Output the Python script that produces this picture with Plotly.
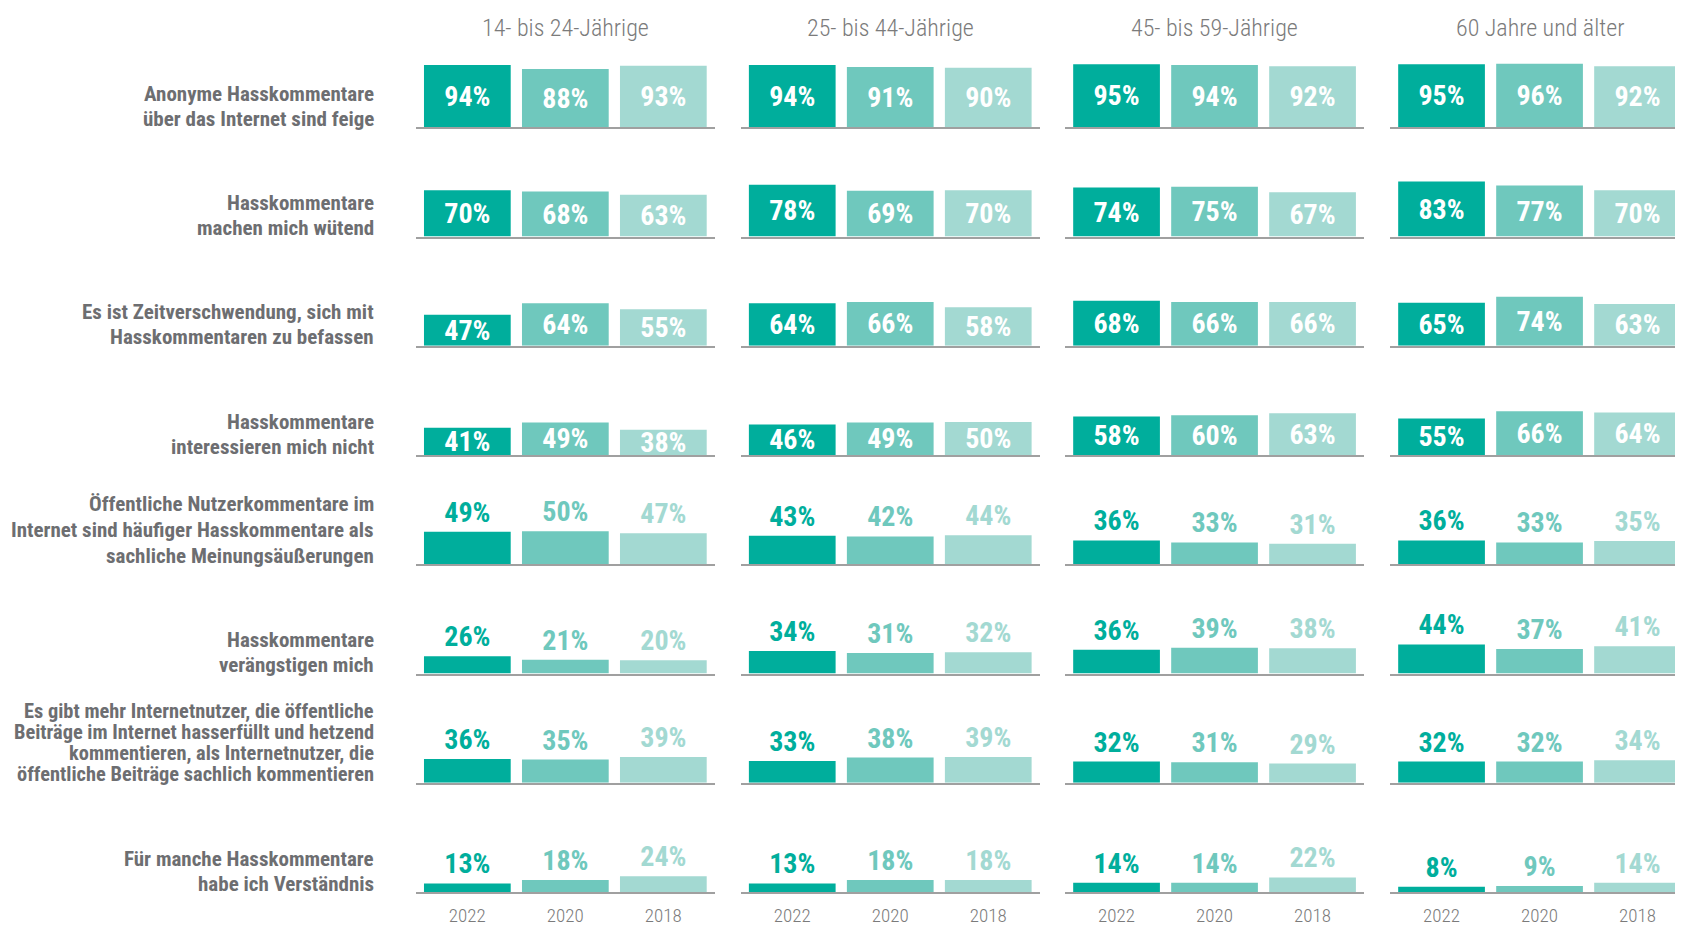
import plotly.graph_objects as go

# ---------------- data ----------------
groups = ["14- bis 24-Jährige", "25- bis 44-Jährige", "45- bis 59-Jährige", "60 Jahre und älter"]
years = ["2022", "2020", "2018"]

statements = [
    ["Anonyme Hasskommentare", "über das Internet sind feige"],
    ["Hasskommentare", "machen mich wütend"],
    ["Es ist Zeitverschwendung, sich mit", "Hasskommentaren zu befassen"],
    ["Hasskommentare", "interessieren mich nicht"],
    ["Öffentliche Nutzerkommentare im", "Internet sind häufiger Hasskommentare als",
     "sachliche Meinungsäußerungen"],
    ["Hasskommentare", "verängstigen mich"],
    ["Es gibt mehr Internetnutzer, die öffentliche", "Beiträge im Internet hasserfüllt und hetzend",
     "kommentieren, als Internetnutzer, die", "öffentliche Beiträge sachlich kommentieren"],
    ["Für manche Hasskommentare", "habe ich Verständnis"],
]

# values per statement: one list per age group, order 2022, 2020, 2018
feige = [[94, 88, 93], [94, 91, 90], [95, 94, 92], [95, 96, 92]]
wuetend = [[70, 68, 63], [78, 69, 70], [74, 75, 67], [83, 77, 70]]
zeitverschwendung = [[47, 64, 55], [64, 66, 58], [68, 66, 66], [65, 74, 63]]
interessieren_nicht = [[41, 49, 38], [46, 49, 50], [58, 60, 63], [55, 66, 64]]
haeufiger_hass = [[49, 50, 47], [43, 42, 44], [36, 33, 31], [36, 33, 35]]
veraengstigen = [[26, 21, 20], [34, 31, 32], [36, 39, 38], [44, 37, 41]]
mehr_hetzer = [[36, 35, 39], [33, 38, 39], [32, 31, 29], [32, 32, 34]]
verstaendnis = [[13, 18, 24], [13, 18, 18], [14, 14, 22], [8, 9, 14]]

all_values = [feige, wuetend, zeitverschwendung, interessieren_nicht,
              haeufiger_hass, veraengstigen, mehr_hetzer, verstaendnis]
inside_rows = [True, True, True, True, False, False, False, False]

# ---------------- style ----------------
OFF = 8  # page body margin
W, H = 1683 - OFF, 925 - OFF
bar_colors = ["#00AE9C", "#6FC8BD", "#A3D9D2"]
gray_text = "#6D6E71"
axis_gray = "#A0A0A0"
FONT = "'Roboto Condensed', 'Fira Sans Condensed', 'DejaVu Sans Condensed', sans-serif"

col_left = [415.7, 740.6, 1064.9, 1389.9]
line_w = 299.5
baseline0 = 127.3
row_pitch = 109.25
px_per_unit = 98.0
left_off = 0.527
px_per_pct = 0.663
panel_px = 100.0

line_spacing = [25, 25, 25, 25, 26, 25, 21, 25]
label_size = [21, 21, 21, 21, 21, 21, 20.4, 21]

fig = go.Figure()
layout = dict(
    width=W, height=H, margin=dict(l=0, r=0, t=0, b=0, autoexpand=False),
    paper_bgcolor="white", plot_bgcolor="white",
    showlegend=False, font=dict(family=FONT),
    bargap=0.115,
)
annotations = []


def px_x(x):
    return (x - OFF) / W


def px_y(y):
    return 1 - (y - OFF) / H


for r, vals in enumerate(all_values):
    base = baseline0 + r * row_pitch
    y0 = px_y(base)
    y1 = px_y(base - panel_px)
    for c in range(4):
        idx = r * 4 + c + 1
        xl = col_left[c]
        xr = min(xl + line_w, W + OFF)
        dom = [px_x(xl), px_x(xr)]
        xa = "xaxis" if idx == 1 else f"xaxis{idx}"
        ya = "yaxis" if idx == 1 else f"yaxis{idx}"
        xref = "x" if idx == 1 else f"x{idx}"
        yref = "y" if idx == 1 else f"y{idx}"
        v = vals[c]
        texts = [f"{x}%" for x in v]
        if inside_rows[r]:
            tpos = "inside"
            tcol = ["white"] * 3
        else:
            tpos = "outside"
            tcol = bar_colors
        fig.add_trace(go.Bar(
            x=years, y=v, xaxis=xref, yaxis=yref,
            marker=dict(color=bar_colors, line=dict(width=0)),
            text=texts, textposition=tpos, insidetextanchor="middle",
            textfont=dict(family=FONT, size=28, color=tcol, weight=700),
            constraintext="none", cliponaxis=False, hoverinfo="skip",
        ))
        layout[xa] = dict(
            domain=dom, type="category",
            range=[-left_off, -left_off + (xr - xl) / px_per_unit],
            showline=True, linecolor=axis_gray, linewidth=2,
            showgrid=False, zeroline=False, ticks="",
            showticklabels=(r == len(all_values) - 1),
            tickfont=dict(family=FONT, size=19, color="#7B7B7B", weight=300),
            ticklabelstandoff=5, fixedrange=True, automargin=False,
            anchor=yref,
        )
        layout[ya] = dict(
            domain=[y0, y1], range=[0, panel_px / px_per_pct],
            showline=False, showgrid=False, zeroline=False, automargin=False,
            showticklabels=False, ticks="", fixedrange=True, anchor=xref,
        )
    # row labels, one annotation per line
    lines = statements[r]
    n = len(lines)
    for i, ln in enumerate(lines):
        baseline_txt = base - 1 - (n - 1 - i) * line_spacing[r]
        yc = baseline_txt - 7.5
        annotations.append(dict(
            text=ln, xref="paper", yref="paper",
            x=px_x(376), y=px_y(yc), xanchor="right", yanchor="middle",
            showarrow=False, align="right",
            font=dict(family=FONT, size=label_size[r], color=gray_text, weight=700),
        ))

for c, g in enumerate(groups):
    xc = (col_left[c] + col_left[c] + line_w) / 2
    annotations.append(dict(
        text=g, xref="paper", yref="paper", x=px_x(xc), y=px_y(28),
        xanchor="center", yanchor="middle", showarrow=False,
        font=dict(family=FONT, size=24, color="#7B7B7B", weight=300),
    ))

layout["annotations"] = annotations
fig.update_layout(**layout)
fig.write_html("out.html", config={"displayModeBar": False})
